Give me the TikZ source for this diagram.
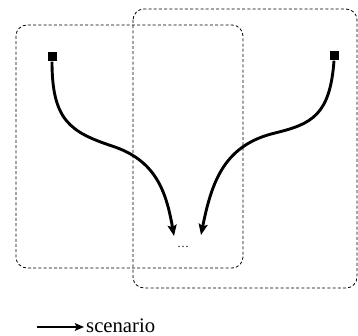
\documentclass[tikz,border=0pt]{standalone}
\usepackage{fontspec}
\setmainfont{Liberation Serif}
\usetikzlibrary{arrows.meta}
\begin{document}
\begin{tikzpicture}[x=1pt,y=-1pt,
  region/.style={draw,dashed,dash pattern=on 3pt off 2.2pt,line width=0.8pt,rounded corners=11pt},
  endbox/.style={fill=black,inner sep=0pt,minimum size=9pt},
  flow/.style={line width=2.9pt,-{Stealth[length=11pt,width=9pt,inset=2pt]}}]
\useasboundingbox (0,0) rectangle (358,336);
\draw[region] (16,25) rectangle (243,268);
\draw[region] (133,9) rectangle (357,288);
\node[endbox] (a) at (52,57) {};
\node[endbox] (b) at (334,56) {};
\node[font=\fontsize{12}{13}\selectfont] (dots) at (183,247) {\ldots};
\draw[flow] (a.south) .. controls (52,120) and (70,132) .. (112,146)
  .. controls (155,160) and (166,190) .. (174,236);
\draw[flow] (b.south) .. controls (330,115) and (312,124) .. (275,133)
  .. controls (225,145) and (212,180) .. (201,235);
\coordinate (l1) at (37,327);
\node[anchor=base west,inner sep=0pt,font=\fontsize{20.7}{23}\selectfont] (lbl) at (86,332) {scenario};
\coordinate (l2) at (84,327);
\draw[line width=2.2pt,-{Stealth[length=9pt,width=7.5pt,inset=1.5pt]}] (l1) -- (l2);
\end{tikzpicture}
\end{document}
